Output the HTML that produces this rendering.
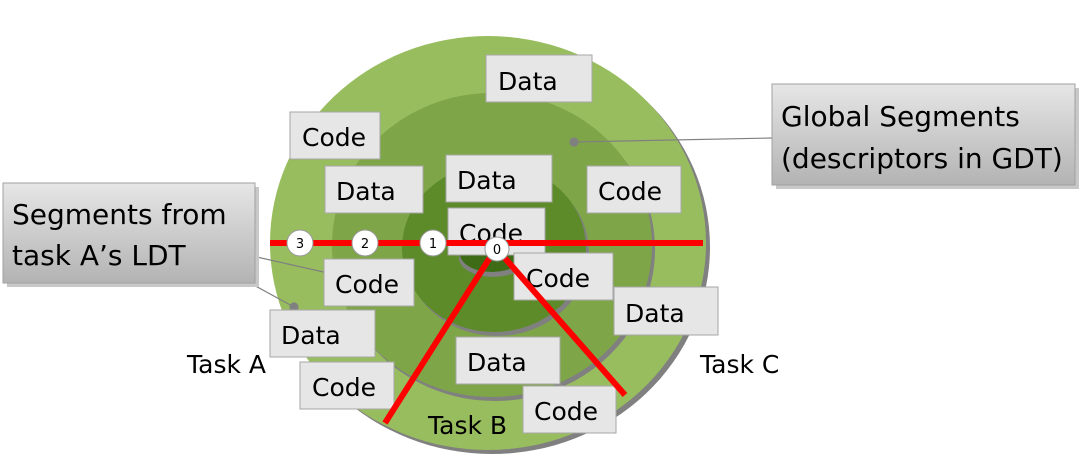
<!DOCTYPE html>
<html><head><meta charset="utf-8"><style>
html,body{margin:0;padding:0;background:#fff;}
svg{display:block;}
text{font-family:"DejaVu Sans","Liberation Sans",sans-serif;}
</style></head><body>
<svg width="1090" height="456" viewBox="0 0 1090 456" xmlns="http://www.w3.org/2000/svg">
<defs>
<linearGradient id="g" x1="0" y1="0" x2="0" y2="1">
<stop offset="0" stop-color="#e6e6e6"/><stop offset="1" stop-color="#b3b3b3"/>
</linearGradient>
</defs>
<ellipse cx="492" cy="247" rx="218" ry="207" fill="#808080"/>
<ellipse cx="488" cy="243" rx="218" ry="207" fill="#98bd5e"/>
<ellipse cx="495" cy="249" rx="160" ry="152" fill="#808080"/>
<ellipse cx="492" cy="245" rx="160" ry="152" fill="#7ea547"/>
<ellipse cx="497" cy="252" rx="92" ry="84" fill="#808080"/>
<ellipse cx="494" cy="248" rx="92" ry="84" fill="#5d8b29"/>
<ellipse cx="493" cy="258" rx="34" ry="19" fill="#808080"/>
<ellipse cx="492" cy="254" rx="32" ry="18" fill="#3e6c16"/>
<g stroke="#808080" stroke-width="1.2" fill="#808080">
<line x1="230" y1="251" x2="328" y2="273"/><circle cx="329" cy="273" r="4"/>
<line x1="228" y1="271" x2="294" y2="307"/><circle cx="294" cy="307" r="4"/>
<line x1="772" y1="138" x2="574" y2="142"/><circle cx="574" cy="142" r="4"/>
</g>
<g fill="#e6e6e6" stroke="#a6a6a6" stroke-width="1">
<rect x="486" y="55" width="106" height="47"/>
<rect x="290" y="112" width="90" height="47"/>
<rect x="325" y="166" width="98" height="47"/>
<rect x="446" y="155" width="106" height="47"/>
<rect x="448" y="208" width="97" height="47"/>
<rect x="587" y="166" width="94" height="47"/>
<rect x="324" y="259" width="90" height="47"/>
<rect x="514" y="253" width="99" height="47"/>
<rect x="614" y="287" width="104" height="48"/>
<rect x="270" y="310" width="105" height="47"/>
<rect x="456" y="337" width="104" height="47"/>
<rect x="300" y="362" width="94" height="47"/>
<rect x="523" y="386" width="93" height="47"/>
</g>
<g font-size="25" fill="#000">
<text x="498" y="90">Data</text>
<text x="302" y="146">Code</text>
<text x="336" y="200">Data</text>
<text x="457" y="189">Data</text>
<text x="459" y="242">Code</text>
<text x="598" y="200">Code</text>
<text x="335" y="293">Code</text>
<text x="526" y="287">Code</text>
<text x="625" y="322">Data</text>
<text x="281" y="344">Data</text>
<text x="467" y="371">Data</text>
<text x="312" y="396">Code</text>
<text x="534" y="420">Code</text>
<text x="187" y="373">Task A</text>
<text x="700" y="373">Task C</text>
<text x="428" y="434">Task B</text>
</g>
<g stroke="#ff0000" stroke-width="6" stroke-linecap="butt">
<line x1="270" y1="243" x2="703" y2="243"/>
<line x1="496" y1="248" x2="385" y2="423"/>
<line x1="496" y1="248" x2="625" y2="395"/>
</g>
<g fill="#fff" stroke="#999" stroke-width="1">
<circle cx="300" cy="243" r="13"/><circle cx="365" cy="243" r="13"/>
<circle cx="433" cy="243" r="13"/><circle cx="497" cy="249" r="12"/>
</g>
<g font-size="13" text-anchor="middle" fill="#000">
<text x="300" y="248">3</text><text x="365" y="248">2</text>
<text x="433" y="248">1</text><text x="497" y="254">0</text>
</g>
<rect x="7" y="187" width="252" height="100" fill="#c8c8c8"/>
<rect x="3" y="183" width="252" height="100" fill="url(#g)" stroke="#a0a0a0"/>
<text x="12" y="224" font-size="28">Segments from</text>
<text x="12" y="265" font-size="28">task A’s LDT</text>
<rect x="776" y="88" width="303" height="101" fill="#c8c8c8"/>
<rect x="772" y="84" width="303" height="101" fill="url(#g)" stroke="#a0a0a0"/>
<text x="781" y="126" font-size="28">Global Segments</text>
<text x="781" y="168" font-size="28">(descriptors in GDT)</text>
</svg>
</body></html>
